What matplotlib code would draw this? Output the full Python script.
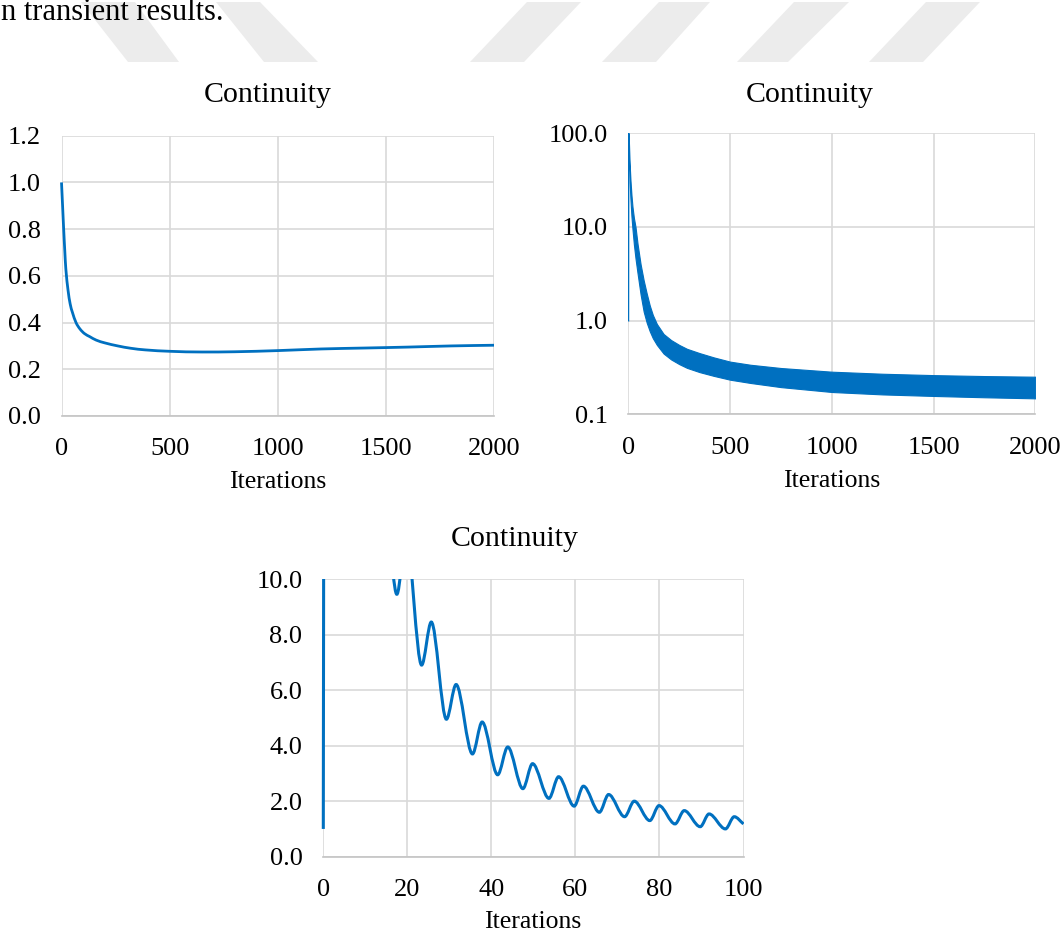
import numpy as np
import matplotlib
matplotlib.use("Agg")
import matplotlib.pyplot as plt
from matplotlib.path import Path
from matplotlib.patches import PathPatch, Polygon
from matplotlib.transforms import Bbox, TransformedBbox

# --- courbe 1 : résidu de continuité, échelle linéaire ---
lin_it = [0, 5, 10, 15, 20, 30, 40, 50, 67, 85, 106, 130, 160, 200, 260, 320,
          387, 500, 650, 800, 1000, 1200, 1400, 1600, 1800, 2000]
lin_res = [1.0, 0.90, 0.80, 0.71, 0.63, 0.54, 0.48, 0.445, 0.40, 0.373, 0.353, 0.34,
           0.325, 0.313, 0.300, 0.290, 0.283, 0.277, 0.274, 0.275, 0.280, 0.287,
           0.291, 0.295, 0.300, 0.303]

# --- courbe 2 : échelle log, bande d'oscillation (enveloppes haute / basse) ---
log_start_it = [0, 1]
log_start_res = [1.0, 100.0]
env_it = [1, 3, 6, 10, 15, 20, 27, 35, 45, 60, 75, 90, 105, 120, 140, 173, 210,
          250, 288, 350, 420, 500, 600, 750, 1000, 1250, 1500, 1750, 2000]
env_hi = [100, 75, 48, 32, 22, 16.5, 12.5, 10.0, 6.6, 4.0, 2.70, 1.95, 1.45, 1.15,
          0.92, 0.72, 0.62, 0.55, 0.50, 0.45, 0.405, 0.365, 0.338, 0.312, 0.285,
          0.271, 0.262, 0.256, 0.252]
env_lo = [80, 50, 30, 20, 13, 9.5, 6.5, 4.6, 3.2, 1.9, 1.25, 0.95, 0.77, 0.65,
          0.55, 0.445, 0.385, 0.343, 0.313, 0.282, 0.257, 0.234, 0.216, 0.195, 0.173,
          0.163, 0.157, 0.152, 0.148]

# --- courbe 3 : zoom sur les 100 premières itérations (pics et creux) ---
zoom_it = [0, 1, 4, 7.5, 11.6, 13.7, 17.5, 19.7, 23.4, 25.7, 29.3, 31.6, 35.5,
           37.8, 41.5, 43.9, 47.5, 49.8, 53.7, 56.0, 59.7, 61.9, 65.7, 67.9, 71.7,
           74.0, 77.7, 79.9, 83.7, 85.9, 89.7, 91.8, 95.7, 97.8, 100]
zoom_res = [1.0, 100, 45, 25, 13.0, 15.0, 9.45, 11.5, 6.9, 8.45, 4.95, 6.2, 3.7,
            4.85, 2.95, 3.95, 2.45, 3.35, 2.1, 2.88, 1.82, 2.54, 1.6, 2.24, 1.44,
            2.0, 1.3, 1.84, 1.18, 1.66, 1.08, 1.54, 1.0, 1.44, 1.18]

W, H = 1060, 944
BLUE = "#0070c0"
GRID = "#d9d9d9"
plt.rcParams["font.family"] = ["Liberation Serif", "DejaVu Serif"]


def px_box(l, t, r, b):
    return [l / W, 1 - b / H, (r - l) / W, (b - t) / H]


def smooth_path(x, y):
    # courbe lissée façon Excel : Hermite cubique, tangente nulle aux extrema
    x = np.asarray(x, float)
    y = np.asarray(y, float)
    n = len(x)
    m = np.zeros(n)
    for i in range(n):
        if i == 0:
            m[i] = (y[1] - y[0]) / (x[1] - x[0])
        elif i == n - 1:
            m[i] = (y[-1] - y[-2]) / (x[-1] - x[-2])
        elif (y[i] - y[i - 1]) * (y[i + 1] - y[i]) <= 0:
            m[i] = 0.0
        else:
            m[i] = (y[i + 1] - y[i - 1]) / (x[i + 1] - x[i - 1])
    verts = [(x[0], y[0])]
    codes = [Path.MOVETO]
    for i in range(n - 1):
        h = x[i + 1] - x[i]
        verts += [(x[i] + h / 3, y[i] + m[i] * h / 3),
                  (x[i + 1] - h / 3, y[i + 1] - m[i + 1] * h / 3),
                  (x[i + 1], y[i + 1])]
        codes += [Path.CURVE4] * 3
    return Path(verts, codes)


def add_curve(ax, x, y, lw):
    patch = PathPatch(smooth_path(x, y), facecolor="none", edgecolor=BLUE, lw=lw)
    ax.add_patch(patch)
    # on laisse déborder un peu à gauche pour ne pas couper le trait vertical à x=0
    patch.set_clip_box(TransformedBbox(Bbox([[-0.02, -0.02], [1.0, 1.0]]), ax.transAxes))


def style(ax, xticks):
    for s in ax.spines.values():
        s.set_visible(False)
    ax.spines["bottom"].set_visible(True)
    ax.spines["bottom"].set_color("#c4c4c4")
    ax.spines["bottom"].set_linewidth(1.2)
    ax.grid(True, color=GRID, lw=1.2)
    ax.set_axisbelow(True)
    ax.set_xticks(xticks)
    ax.tick_params(length=0, labelsize=19, colors="black")
    ax.tick_params(axis="x", pad=16)
    ax.tick_params(axis="y", pad=15)


fig = plt.figure(figsize=(W / 100, H / 100), dpi=100)

# filigrane et texte coupé en haut de page
for poly in [[(81, 2), (135, 2), (179, 62), (128, 62)],
             [(216, 2), (260, 2), (318, 62), (264, 62)],
             [(527, 2), (581, 2), (524, 62), (470, 62)],
             [(659, 2), (710, 2), (656, 62), (602, 62)],
             [(794, 2), (849, 2), (788, 62), (737, 62)],
             [(926, 2), (980, 2), (923, 62), (869, 62)]]:
    fig.add_artist(Polygon([(px / W, 1 - py / H) for px, py in poly],
                           closed=True, transform=fig.transFigure,
                           facecolor="#ececec", edgecolor="none", zorder=0))
fig.text(1 / W, 1 - 20 / H, "n transient results.", fontsize=22,
         va="baseline", ha="left")

# --- graphique 1 ---
ax1 = fig.add_axes(px_box(61.5, 135.7, 494.3, 416))
style(ax1, [0, 500, 1000, 1500, 2000])
add_curve(ax1, lin_it, lin_res, 2.0)
ax1.set_xlim(0, 2000)
ax1.set_ylim(0, 1.2)
ax1.set_yticks([0, 0.2, 0.4, 0.6, 0.8, 1.0, 1.2])
ax1.yaxis.set_major_formatter("{x:.1f}")
fig.text(268 / W, 1 - 102.3 / H, "Continuity", fontsize=21.5, ha="center", va="baseline")
fig.text(277.6 / W, 1 - 488 / H, "Iterations", fontsize=18.5, ha="center", va="baseline")

# --- graphique 2 ---
ax2 = fig.add_axes(px_box(628.4, 133.3, 1035.4, 414.3))
style(ax2, [0, 500, 1000, 1500, 2000])
ax2.set_yscale("log")
ax2.fill_between(env_it, env_lo, env_hi, color=BLUE, lw=0.8, edgecolor=BLUE)
ax2.plot(log_start_it, log_start_res, color=BLUE, lw=1.2)
ax2.set_xlim(0, 2000)
ax2.set_ylim(0.1, 100)
ax2.set_yticks([0.1, 1, 10, 100])
ax2.yaxis.set_major_formatter("{x:.1f}")
ax2.yaxis.set_minor_locator(matplotlib.ticker.NullLocator())
fig.text(809.4 / W, 1 - 101.7 / H, "Continuity", fontsize=21.5, ha="center", va="baseline")
fig.text(831.5 / W, 1 - 487 / H, "Iterations", fontsize=18.5, ha="center", va="baseline")

# --- graphique 3 ---
ax3 = fig.add_axes(px_box(323.3, 579, 743.5, 856.7))
style(ax3, [0, 20, 40, 60, 80, 100])
add_curve(ax3, zoom_it, zoom_res, 2.2)
ax3.set_xlim(0, 100)
ax3.set_ylim(0, 10)
ax3.set_yticks([0, 2, 4, 6, 8, 10])
ax3.yaxis.set_major_formatter("{x:.1f}")
fig.text(514.5 / W, 1 - 546 / H, "Continuity", fontsize=21.5, ha="center", va="baseline")
fig.text(532.7 / W, 1 - 928 / H, "Iterations", fontsize=18.5, ha="center", va="baseline")

fig.savefig("out.png", dpi=100)
